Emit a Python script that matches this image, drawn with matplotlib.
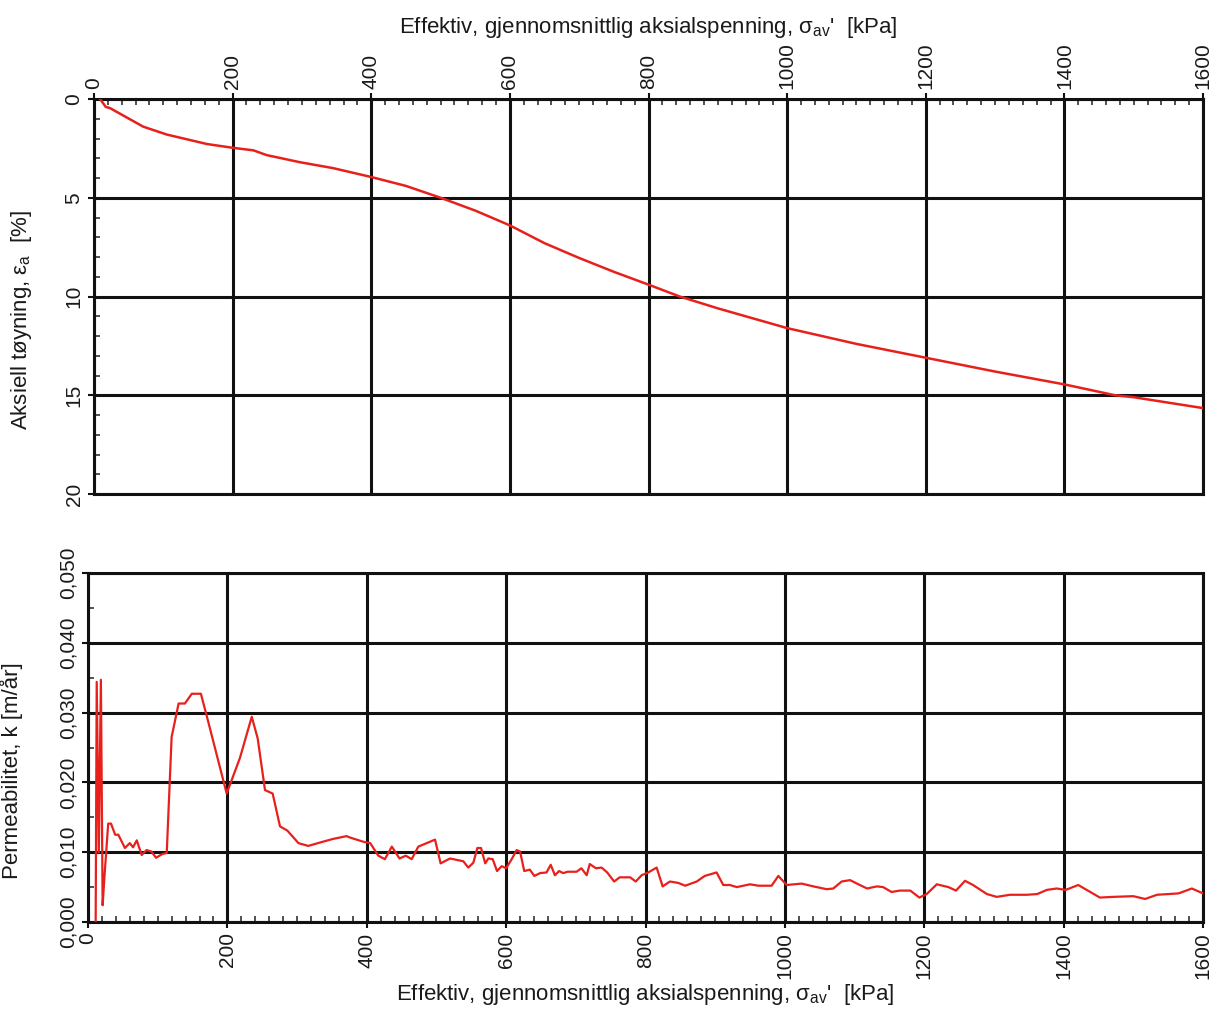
import matplotlib
matplotlib.use("Agg")
import matplotlib.pyplot as plt
from matplotlib.ticker import MultipleLocator, FuncFormatter

plt.rcParams['font.family'] = ['Liberation Sans', 'DejaVu Sans']
plt.rcParams['mathtext.fontset'] = 'custom'
plt.rcParams['mathtext.rm'] = 'Liberation Sans'
plt.rcParams['mathtext.it'] = 'Liberation Sans'

# Top panel: axial strain vs effective mean axial stress
strain_stress = [8.7, 17, 23, 71, 105, 163, 200, 230, 249, 297, 345, 400, 450, 500,
                 550, 600, 650, 700, 750, 800, 845, 900, 1000, 1100, 1200, 1300,
                 1400, 1473, 1500, 1600]
strain_vals = [0.0, 0.4, 0.46, 1.4, 1.8, 2.28, 2.47, 2.6, 2.84, 3.2, 3.5, 3.95, 4.4, 5.0,
               5.65, 6.4, 7.3, 8.05, 8.75, 9.4, 10.0, 10.6, 11.6, 12.4, 13.1, 13.8,
               14.45, 15.0, 15.1, 15.65]

# Bottom panel: permeability vs effective mean axial stress
perm_stress = [11, 12.5, 15.5, 18.5, 21, 23.4, 29, 33, 39, 43.5, 53, 60, 64.6, 70, 77, 84,
               91, 97.6, 106, 113, 120, 130, 139, 149, 162, 172, 199, 218, 235, 243.5,
               254, 265, 275.5, 286, 302, 316, 337, 351.6, 371, 376, 395, 405, 416.6,
               426, 436, 447, 456, 464.5, 474, 483.6, 498, 506, 519.5, 538.6, 545.7,
               553, 558.7, 564, 570, 574.5, 580.7, 587, 593.6, 600, 608, 615, 620, 626,
               634, 640.5, 648.6, 658, 664, 670, 676, 682, 688, 701, 708, 715.6, 720,
               729, 737, 745, 755, 763, 778, 786, 794.5, 804, 811, 816, 824.6, 835, 847,
               857, 873.5, 885, 902, 911.6, 921, 931, 950, 962, 981, 990.6, 1002.6,
               1024, 1041, 1060, 1069.5, 1081.5, 1093.5, 1105.5, 1118, 1132, 1141,
               1153, 1165, 1180, 1193, 1203.5, 1218, 1234.6, 1245.6, 1258.5, 1270,
               1290, 1304, 1323, 1347, 1362, 1376, 1390, 1403, 1421, 1440, 1452, 1471,
               1500, 1517, 1534, 1565, 1584, 1600]
perm_vals = [0.0, 0.0344, 0.010, 0.0347, 0.0024, 0.0062, 0.0141, 0.0141, 0.0125, 0.0125,
             0.0106, 0.0113, 0.0107, 0.0117, 0.0096, 0.0103, 0.0101, 0.0092, 0.0097,
             0.0099, 0.0265, 0.0313, 0.0313, 0.0327, 0.0327, 0.0289, 0.0184, 0.0235,
             0.0294, 0.0263, 0.0189, 0.0184, 0.0137, 0.0131, 0.0113, 0.0109, 0.0115,
             0.0119, 0.0123, 0.0121, 0.0115, 0.0113, 0.0095, 0.0090, 0.0108, 0.0091,
             0.0095, 0.0090, 0.0108, 0.0112, 0.0118, 0.0084, 0.0091, 0.0087, 0.0078,
             0.0085, 0.0106, 0.0106, 0.0084, 0.0091, 0.0090, 0.0073, 0.0080, 0.0077,
             0.0090, 0.0103, 0.0101, 0.0073, 0.0075, 0.0066, 0.0070, 0.0071, 0.0082,
             0.0067, 0.0073, 0.0070, 0.0072, 0.0072, 0.0077, 0.0067, 0.0083, 0.0077,
             0.0078, 0.0071, 0.0058, 0.0064, 0.0064, 0.0058, 0.0067, 0.0071, 0.0075,
             0.0078, 0.0051, 0.0058, 0.0056, 0.0052, 0.0058, 0.0066, 0.0071, 0.0053,
             0.0053, 0.0050, 0.0054, 0.0052, 0.0052, 0.0066, 0.0053, 0.0055, 0.0051,
             0.0047, 0.0048, 0.0058, 0.0060, 0.0054, 0.0048, 0.0051, 0.0050, 0.0043,
             0.0045, 0.0045, 0.0035, 0.0040, 0.0054, 0.0050, 0.0045, 0.0059, 0.0053,
             0.0040, 0.0036, 0.0039, 0.0039, 0.0040, 0.0046, 0.0048, 0.0046, 0.0053,
             0.0042, 0.0035, 0.0036, 0.0037, 0.0033, 0.0039, 0.0041, 0.0048, 0.0041]

x_ticks = [0, 200, 400, 600, 800, 1000, 1200, 1400, 1600]
strain_ticks = [0, 5, 10, 15, 20]
perm_ticks = [0.000, 0.010, 0.020, 0.030, 0.040, 0.050]

xlabel = "Effektiv, gjennomsnittlig aksialspenning, σ$_{\\mathrm{av}}$'  [kPa]"
ylabel_top = "Aksiell tøyning, ε$_{\\mathrm{a}}$  [%]"
ylabel_bot = "Permeabilitet, k [m/år]"

W, H = 1221, 1010
fig = plt.figure(figsize=(W / 100, H / 100), dpi=100)
fig.patch.set_facecolor('white')

ax1 = fig.add_axes([94 / W, 1 - 494 / H, (1203 - 94) / W, (494 - 99) / H])
ax2 = fig.add_axes([88 / W, 1 - 922 / H, (1203 - 88) / W, (922 - 573) / H])

red = '#e8201c'
fs = 15
lfs = 16
txt = '#1a1a1a'

def style(ax):
    for s in ax.spines.values():
        s.set_linewidth(2.2)
        s.set_color('#111111')
    ax.grid(True, which='major', color='#111111', linewidth=2.2)
    ax.set_axisbelow(True)
    ax.tick_params(which='major', direction='out', length=4, width=1.5, labelsize=fs,
                   colors='#111111', labelcolor=txt)
    ax.tick_params(which='minor', direction='in', length=4, width=1.2, colors='#333333')

# Top panel
ax1.plot(strain_stress, strain_vals, color=red, linewidth=1.8, zorder=3)
ax1.set_xlim(0, 1600)
ax1.set_ylim(20, 0)
ax1.set_xticks(x_ticks)
ax1.set_yticks(strain_ticks)
ax1.xaxis.set_minor_locator(MultipleLocator(20))
ax1.yaxis.set_minor_locator(MultipleLocator(1))
ax1.xaxis.tick_top()
ax1.xaxis.set_label_position('top')
style(ax1)
ax1.tick_params(axis='x', which='both', top=True, bottom=False, labeltop=True, labelbottom=False)
for lab in ax1.get_xticklabels():
    lab.set_rotation(90)
    lab.set_va('bottom')
    lab.set_ha('center')
for lab in ax1.get_yticklabels():
    lab.set_rotation(90)
    lab.set_va('center')
ax1.set_xlabel(xlabel, fontsize=lfs, labelpad=6, color=txt)
ax1.set_ylabel(ylabel_top, fontsize=lfs, color=txt)
ax1.yaxis.set_label_coords(-0.054, 0.44)

# Bottom panel
ax2.plot(perm_stress, perm_vals, color=red, linewidth=1.6, zorder=3)
ax2.set_xlim(0, 1600)
ax2.set_ylim(0, 0.05)
ax2.set_xticks(x_ticks)
ax2.set_yticks(perm_ticks)
ax2.xaxis.set_minor_locator(MultipleLocator(20))
ax2.yaxis.set_minor_locator(MultipleLocator(0.005))
ax2.yaxis.set_major_formatter(FuncFormatter(lambda v, p: f"{v:.3f}".replace('.', ',')))
style(ax2)
for lab in ax2.get_xticklabels():
    lab.set_rotation(90)
    lab.set_va('top')
    lab.set_ha('center')
for lab in ax2.get_yticklabels():
    lab.set_rotation(90)
    lab.set_va('center')
ax2.set_xlabel(xlabel, fontsize=lfs, labelpad=2, color=txt)
ax2.set_ylabel(ylabel_bot, fontsize=lfs, color=txt)
ax2.yaxis.set_label_coords(-0.058, 0.435)

fig.savefig('out.png', dpi=100, facecolor='white')
